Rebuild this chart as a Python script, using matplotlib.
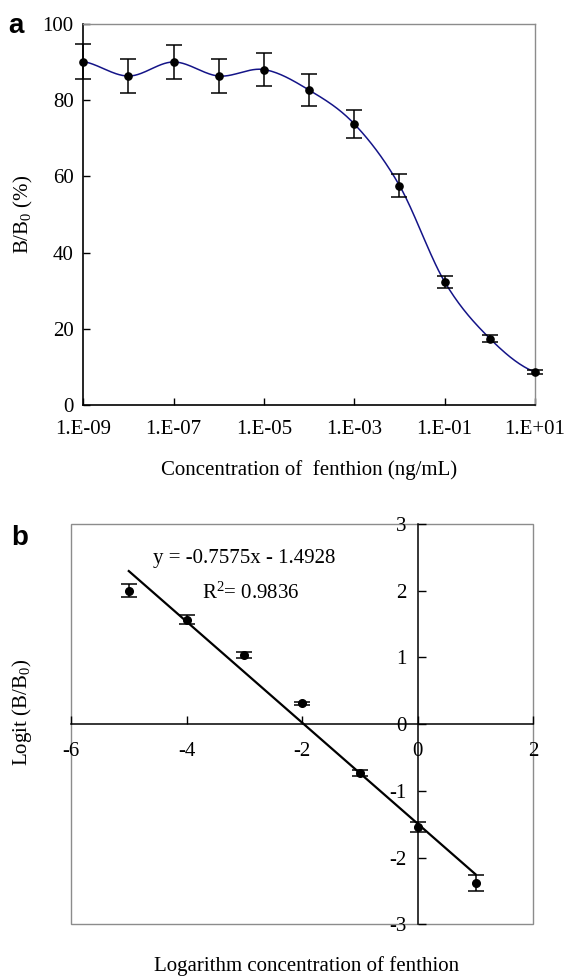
import numpy as np
import matplotlib
matplotlib.use('Agg')
import matplotlib.pyplot as plt
from matplotlib.patches import Rectangle

plt.rcParams['font.family'] = ['Liberation Serif', 'DejaVu Serif']
plt.rcParams['mathtext.default'] = 'regular'
plt.rcParams['axes.unicode_minus'] = False

# panel a: competitive curve
conc = [1e-9, 1e-8, 1e-7, 1e-6, 1e-5, 1e-4, 1e-3, 1e-2, 1e-1, 1e0, 1e1]
b_b0 = [90.2, 86.4, 90.1, 86.4, 88.1, 82.7, 73.8, 57.6, 32.3, 17.4, 8.6]
sd_a = [4.5, 4.4, 4.4, 4.5, 4.3, 4.2, 3.7, 3.0, 1.6, 0.8, 0.6]
xticks_a = [1e-9, 1e-7, 1e-5, 1e-3, 1e-1, 1e1]
xticklabels_a = ['1.E-09', '1.E-07', '1.E-05', '1.E-03', '1.E-01', '1.E+01']

# panel b: logit-log plot
log_conc = [-5, -4, -3, -2, -1, 0, 1]
logit = [2.00, 1.565, 1.04, 0.31, -0.73, -1.54, -2.38]
sd_b = [0.10, 0.07, 0.045, 0.02, 0.045, 0.075, 0.12]
slope = -0.7575
intercept = -1.4928
r2 = 0.9836

FS = 15


def smooth_line(xs, ys, n=30):
    # excel-like smoothed line (catmull-rom) through the points
    xs = np.asarray(xs, float)
    ys = np.asarray(ys, float)
    out_x, out_y = [], []
    for i in range(len(xs) - 1):
        y0 = ys[i - 1] if i > 0 else ys[i]
        y1, y2 = ys[i], ys[i + 1]
        y3 = ys[i + 2] if i + 2 < len(ys) else ys[i + 1]
        m1 = (y2 - y0) / 2
        m2 = (y3 - y1) / 2
        t = np.linspace(0, 1, n)
        h00 = 2 * t**3 - 3 * t**2 + 1
        h10 = t**3 - 2 * t**2 + t
        h01 = -2 * t**3 + 3 * t**2
        h11 = t**3 - t**2
        out_y.extend(h00 * y1 + h10 * m1 + h01 * y2 + h11 * m2)
        out_x.extend(xs[i] + t * (xs[i + 1] - xs[i]))
    return np.array(out_x), np.array(out_y)


W, H = 568, 977
fig = plt.figure(figsize=(W / 100, H / 100), dpi=100)

# ---------- a ----------
ax1 = fig.add_axes([83.3 / W, 1 - 404.7 / H, 451.7 / W, 380.4 / H])
lx, ly = smooth_line(np.log10(conc), b_b0)
ax1.plot(10**lx, ly, color='#141488', lw=1.1, zorder=2)
ax1.errorbar(conc, b_b0, yerr=sd_a, fmt='o', color='black', ms=5.2,
             capsize=6, elinewidth=1.1, capthick=1.1, clip_on=False, zorder=3)
ax1.set_xscale('log')
ax1.set_xlim(1e-9, 1e1)
ax1.set_ylim(0, 100)
ax1.set_xticks(xticks_a)
ax1.set_xticklabels(xticklabels_a)
ax1.xaxis.set_minor_locator(matplotlib.ticker.NullLocator())
ax1.set_yticks([0, 20, 40, 60, 80, 100])
ax1.tick_params(axis='x', direction='in', length=5, width=1, labelsize=FS, pad=11)
ax1.tick_params(axis='y', direction='in', length=5, width=1, labelsize=FS, pad=7)
for s in ['left', 'bottom']:
    ax1.spines[s].set_color('black')
    ax1.spines[s].set_linewidth(1.2)
for s in ['top', 'right']:
    ax1.spines[s].set_color('#8c8c8c')
    ax1.spines[s].set_linewidth(1.0)
ax1.set_xlabel('Concentration of  fenthion (ng/mL)', fontsize=FS, va='center')
ax1.xaxis.set_label_coords(0.5, -0.172)
ax1.set_ylabel('B/B$_0$ (%)', fontsize=FS, va='center')
ax1.yaxis.set_label_coords(-0.133, 0.5)

# ---------- b ----------
ax2 = fig.add_axes([71 / W, 1 - 924.3 / H, 462.3 / W, 400.3 / H])
fit_x = np.array([min(log_conc), max(log_conc)])
ax2.plot(fit_x, slope * fit_x + intercept, color='black', lw=1.6, zorder=2)
ax2.errorbar(log_conc, logit, yerr=sd_b, fmt='o', color='black', ms=5.5,
             capsize=5.5, elinewidth=1.1, capthick=1.1, zorder=3)
ax2.set_xlim(-6, 2)
ax2.set_ylim(-3, 3)
ax2.set_xticks([-6, -4, -2, 0, 2])
ax2.set_yticks([-3, -2, -1, 0, 1, 2, 3])
ax2.spines['left'].set_position(('data', 0))
ax2.spines['bottom'].set_position(('data', 0))
for s in ['left', 'bottom']:
    ax2.spines[s].set_color('black')
    ax2.spines[s].set_linewidth(1.1)
for s in ['top', 'right']:
    ax2.spines[s].set_visible(False)
ax2.add_patch(Rectangle((0, 0), 1, 1, transform=ax2.transAxes, fill=False,
                        edgecolor='#8c8c8c', lw=1.0, clip_on=False, zorder=0))
ax2.tick_params(axis='x', direction='in', length=6, width=1, labelsize=FS, pad=13)
ax2.tick_params(axis='y', direction='in', length=6, width=1, labelsize=FS, pad=8)
ax2.text(-3.0, 2.41, 'y = -0.7575x - 1.4928', fontsize=FS, ha='center', va='baseline')
ax2.text(-2.89, 1.885, 'R$^2$= %.4f' % r2, fontsize=FS, ha='center', va='baseline')
ax2.set_xlabel('Logarithm concentration of fenthion', fontsize=FS, va='center')
ax2.xaxis.set_label_coords(0.51, -0.104)
ax2.set_ylabel('Logit (B/B$_0$)', fontsize=FS, va='center')
ax2.yaxis.set_label_coords(-0.106, 0.528)

# panel letters
fig.text(16 / W, 1 - 26 / H, 'a', fontsize=20, fontweight='bold',
         family='Liberation Sans', ha='center', va='center')
fig.text(20 / W, 1 - 538 / H, 'b', fontsize=20, fontweight='bold',
         family='Liberation Sans', ha='center', va='center')

fig.savefig('out.png', dpi=100)
